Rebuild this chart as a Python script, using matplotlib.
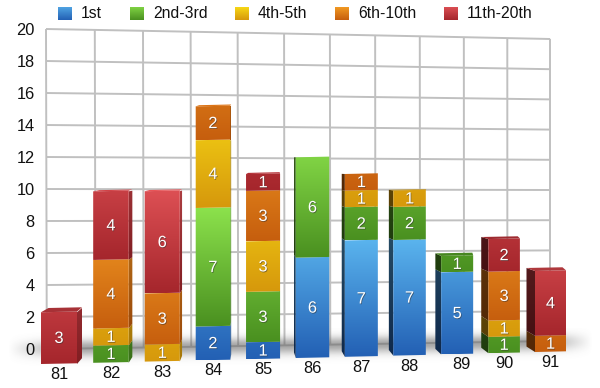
import numpy as np
import matplotlib
matplotlib.use("Agg")
import matplotlib.pyplot as plt
import matplotlib.patheffects as pe
from matplotlib.colors import to_rgb
from matplotlib.patches import Polygon

plt.rcParams['font.family'] = ['Liberation Sans', 'DejaVu Sans']

categories = ['81', '82', '83', '84', '85', '86', '87', '88', '89', '90', '91']
series_names = ['1st', '2nd-3rd', '4th-5th', '6th-10th', '11th-20th']
first = [0, 0, 0, 2, 1, 6, 7, 7, 5, 0, 0]
second_third = [0, 1, 0, 7, 3, 6, 2, 2, 1, 1, 0]
fourth_fifth = [0, 1, 1, 4, 3, 0, 1, 1, 0, 1, 0]
sixth_tenth = [0, 4, 3, 2, 3, 0, 1, 0, 0, 3, 1]
eleventh_twentieth = [3, 4, 6, 0, 1, 0, 0, 0, 0, 2, 4]
y_ticks = [0, 2, 4, 6, 8, 10, 12, 14, 16, 18, 20]

series = [first, second_third, fourth_fifth, sixth_tenth, eleventh_twentieth]
dark = ['#2360b4', '#4a9020', '#d6980c', '#c65e0e', '#a5262c']
light = ['#5ab4ee', '#8ce24c', '#ffe818', '#fca828', '#e8585c']

fig = plt.figure(figsize=(6, 3.88), dpi=100, facecolor='white')
ax = fig.add_axes([0, 0, 1, 1])
ax.axis('off')


# projection helpers: category position / value -> pixel
def wall_x(t):
    return 46 + 49.1 * t - 0.297 * t * t


def wall_y(t, v):
    f = t / 11
    return (349 - 16 * v) * (1 - f) + (341 - 15.1 * v) * f


def bar_x(i):
    return 59 + 52.25 * i - 0.31 * i * i


def bar_w(i):
    return 36 - 0.5 * i


def bar_y(i, v):
    return 364 - 1.2 * i - (17.25 - 0.105 * i) * v


def depth(i, y):
    return -1.35 * (i - 3.7), max(0.0, (y - 170) * 0.03)


def mix(a, b, t):
    a, b = np.array(to_rgb(a)), np.array(to_rgb(b))
    return a + (b - a) * t


def gradient(poly, c_top, c_bot, y_top, y_bot, z):
    arr = np.linspace(0, 1, 64)[:, None, None] * (np.array(c_bot) - np.array(c_top)) + np.array(c_top)
    xs = [p[0] for p in poly]
    im = ax.imshow(arr, extent=(min(xs) - 1, max(xs) + 1, y_bot, y_top), aspect='auto',
                   interpolation='bilinear', zorder=z, origin='upper')
    patch = Polygon(poly, closed=True, transform=ax.transData, facecolor='none', edgecolor='none')
    ax.add_patch(patch)
    im.set_clip_path(patch)


grid = '#c0c0c0'
n_col = len(categories)
for v in y_ticks:
    ts = np.linspace(0, n_col, 12)
    ax.plot(wall_x(ts), wall_y(ts, v), color=grid, lw=1.4, zorder=1, solid_capstyle='butt')
    ax.text(34.5, wall_y(0, v) + 1.5, str(v), ha='right', va='center', fontsize=11.8, color='#111111')
for t in range(n_col + 1):
    x = wall_x(t)
    ax.plot([x, x + 0.8 * (1 - t / n_col)], [wall_y(t, 20), wall_y(t, 0)], color=grid, lw=1.4,
            zorder=1, solid_capstyle='butt')

# floor shadow
yy, xx = np.mgrid[328:372, 0:600]
yc = 348 - (xx - 40) * 0.0125
prof = np.where(yy < yc, np.exp(-((yy - yc) / 8) ** 2), np.exp(-((yy - yc) / 8.5) ** 2))
edge = np.clip((xx - 8) / 60, 0, 1) * np.clip((592 - xx) / 50, 0, 1)
rgba = np.zeros(xx.shape + (4,))
rgba[..., :3] = 0.4
rgba[..., 3] = 0.58 * prof * edge
ax.imshow(rgba, extent=(0, 600, 372, 328), aspect='auto', zorder=2, interpolation='bilinear', origin='upper')

# bars
for i, cat in enumerate(categories):
    xc, w = bar_x(i), bar_w(i)
    xl, xr = xc - w / 2, xc + w / 2
    tilt = 0.7
    bottom = 0
    for s, vals in enumerate(series):
        v = vals[i]
        if v == 0:
            continue
        yb, yt = bar_y(i, bottom), bar_y(i, bottom + v)
        t = min(1.0, (v / 7) ** 1.2)
        c_bot = mix(dark[s], dark[s], 0)
        c_top = mix(dark[s], light[s], t)
        z = 3 + i * 0.01
        sx, db = depth(i, yb)
        _, dt = depth(i, yt)
        edge_x = xl if i >= 5 else xr
        side = [(edge_x, yb), (edge_x + sx, yb - db), (edge_x + sx, yt - dt), (edge_x, yt)]
        fac = 0.42 if i >= 5 else 0.78
        gradient(side, c_top * fac, c_bot * fac, yt - dt - 1, yb + 1, z)
        front = [(xl, yb), (xr, yb - tilt), (xr, yt - tilt), (xl, yt)]
        gradient(front, c_top, c_bot, yt - tilt, yb, z + 0.001)
        ax.text((xl + xr) / 2, (yb + yt) / 2 + 0.3, str(v), ha='center', va='center', color='white',
                fontsize=11.8, zorder=5,
                path_effects=[pe.withSimplePatchShadow(offset=(0.5, -0.6), shadow_rgbFace='#333333',
                                                       alpha=0.55)])
        bottom += v
        last_color = c_top
    # top face
    yt = bar_y(i, bottom)
    sx, dt = depth(i, yt)
    if i <= 4:
        dt = max(dt, 1.2)
    if dt > 0.2:
        shrink = 2.5
        if i >= 5:
            pts = [(xl, yt), (xr, yt - tilt), (xr + sx + shrink * 2, yt - tilt - dt), (xl + sx, yt - dt)]
        else:
            pts = [(xl, yt), (xr, yt - tilt), (xr + sx, yt - tilt - dt), (xl + sx + shrink, yt - dt)]
        top_fac = 0.88 if i >= 5 or dt > 3 else 1.05
        ax.add_patch(Polygon(pts, closed=True, facecolor=np.clip(last_color * top_fac, 0, 1), edgecolor='none',
                             zorder=3.5 + i * 0.01))
    lx = xc + (4 if cat == '89' else 0)
    ax.text(lx, bar_y(i, 0) + 10.5, cat, ha='center', va='center', fontsize=11.8, color='#111111', zorder=6)

# legend
sw_x = [58, 130, 235, 335, 444]
for name, x0, d, l in zip(series_names, sw_x, dark, light):
    sq = [(x0, 7), (x0 + 14, 7), (x0 + 14, 20), (x0, 20)]
    gradient(sq, mix(d, l, 0.8), np.array(to_rgb(d)), 7, 20, 4)
    ax.text(x0 + 23, 13.5, name, ha='left', va='center', fontsize=11.3, color='#111111')

ax.set_xlim(0, 600)
ax.set_ylim(388, 0)
fig.savefig('out.png', dpi=100, facecolor='white')
